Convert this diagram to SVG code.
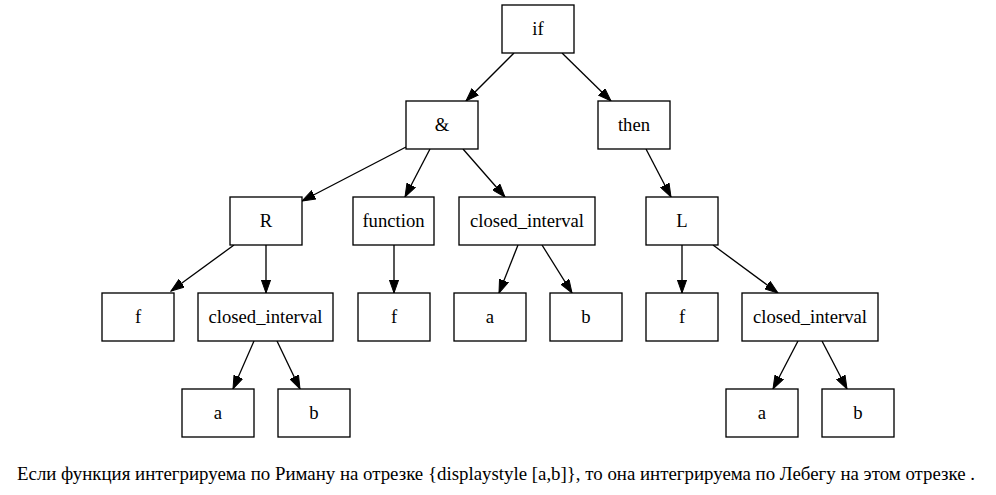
<svg xmlns="http://www.w3.org/2000/svg" width="996" height="495" viewBox="0 0 996 495">
<style>
.n rect{fill:#fff;stroke:#000;stroke-width:1.33}
text{font-family:"Liberation Serif",Tinos,"Times New Roman",Times,"DejaVu Serif","Noto Serif",serif !important;font-size:18.67px;fill:#000}
.n text{text-anchor:middle}
.e line{stroke:#000;stroke-width:1.33;marker-end:url(#ah)}
</style>
<defs>
<marker id="ah" viewBox="0 0 14 10" refX="13.3" refY="5" markerWidth="14" markerHeight="10" markerUnits="userSpaceOnUse" orient="auto">
<path d="M0,0.3 L13.3,5 L0,9.7 z" fill="#000" stroke="#000" stroke-width="1"/>
</marker>
</defs>
<rect width="996" height="495" fill="#fff"/>
<g id="edges" class="e">
<line x1="514" y1="53" x2="466" y2="101"/>
<line x1="562" y1="53" x2="611" y2="101"/>
<line x1="406" y1="147" x2="302" y2="201"/>
<line x1="430" y1="149" x2="405" y2="197"/>
<line x1="463" y1="149" x2="505" y2="197"/>
<line x1="646" y1="149" x2="671" y2="197"/>
<line x1="234" y1="245" x2="171" y2="291"/>
<line x1="266" y1="245" x2="266" y2="293"/>
<line x1="394" y1="245" x2="394" y2="293"/>
<line x1="518" y1="245" x2="499" y2="293"/>
<line x1="542" y1="245" x2="572" y2="293"/>
<line x1="682" y1="245" x2="682" y2="293"/>
<line x1="713" y1="245" x2="778" y2="293"/>
<line x1="254" y1="341" x2="233" y2="389"/>
<line x1="277" y1="341" x2="300" y2="389"/>
<line x1="798" y1="341" x2="773" y2="389"/>
<line x1="822" y1="341" x2="847" y2="389"/>
</g>
<g id="n_if" class="n"><rect x="502" y="5" width="72" height="48"/><text x="538" y="35">if</text></g>
<g id="n_and" class="n"><rect x="406" y="101" width="72" height="48"/><text x="442" y="131">&amp;</text></g>
<g id="n_then" class="n"><rect x="598" y="101" width="72" height="48"/><text x="634" y="131">then</text></g>
<g id="n_R" class="n"><rect x="230" y="197" width="72" height="48"/><text x="266" y="227">R</text></g>
<g id="n_function" class="n"><rect x="353" y="197" width="81" height="48"/><text x="393.5" y="227">function</text></g>
<g id="n_ci1" class="n"><rect x="459" y="197" width="136" height="48"/><text x="527" y="227">closed_interval</text></g>
<g id="n_L" class="n"><rect x="646" y="197" width="72" height="48"/><text x="682" y="227">L</text></g>
<g id="n_f1" class="n"><rect x="102" y="293" width="72" height="48"/><text x="138" y="323">f</text></g>
<g id="n_ci2" class="n"><rect x="198" y="293" width="135" height="48"/><text x="265.5" y="323">closed_interval</text></g>
<g id="n_f2" class="n"><rect x="358" y="293" width="72" height="48"/><text x="394" y="323">f</text></g>
<g id="n_a1" class="n"><rect x="454" y="293" width="72" height="48"/><text x="490" y="323">a</text></g>
<g id="n_b1" class="n"><rect x="550" y="293" width="72" height="48"/><text x="586" y="323">b</text></g>
<g id="n_f3" class="n"><rect x="646" y="293" width="72" height="48"/><text x="682" y="323">f</text></g>
<g id="n_ci3" class="n"><rect x="742" y="293" width="136" height="48"/><text x="810" y="323">closed_interval</text></g>
<g id="n_a2" class="n"><rect x="182" y="389" width="72" height="48"/><text x="218" y="419">a</text></g>
<g id="n_b2" class="n"><rect x="278" y="389" width="72" height="48"/><text x="314" y="419">b</text></g>
<g id="n_a3" class="n"><rect x="726" y="389" width="72" height="48"/><text x="762" y="419">a</text></g>
<g id="n_b3" class="n"><rect x="822" y="389" width="72" height="48"/><text x="858" y="419">b</text></g>
<text x="17" y="480" textLength="958" lengthAdjust="spacingAndGlyphs">Если функция интегрируема по Риману на отрезке {displaystyle [a,b]}, то она интегрируема по Лебегу на этом отрезке .</text>
</svg>
